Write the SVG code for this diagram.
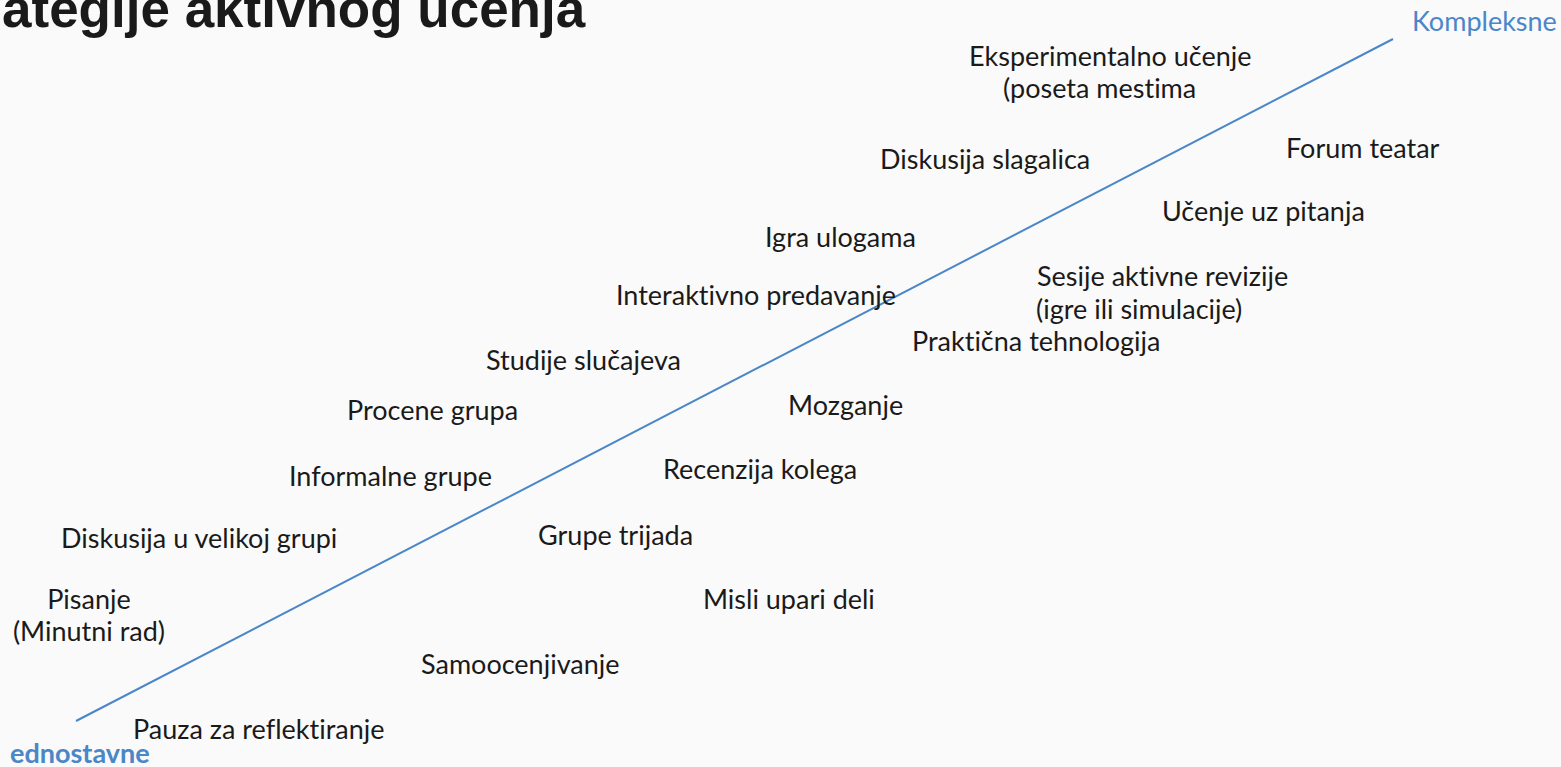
<svg xmlns="http://www.w3.org/2000/svg" width="1561" height="767" viewBox="0 0 1561 767">
<style>
.t{font-family:Lato,"Open Sans",sans-serif;font-size:27px;fill:#1a1a1a;font-variant-ligatures:none}
.b{font-family:Lato,"Open Sans",sans-serif;fill:#4a86c8;font-size:27px;font-variant-ligatures:none}
.title{font-family:"Liberation Sans",Arial,sans-serif;font-weight:bold;font-size:53px;fill:#1a1a1a}
</style>
<rect width="1561" height="767" fill="#fafafa"/>
<text class="title" x="2" y="27">ategije aktivnog učenja</text>
<g id="connectors">
<line x1="76" y1="721" x2="1393" y2="39" stroke="#4a86c8" stroke-width="2"/>
</g>
<g id="n-kompleksne"><text class="b" x="1412" y="31">Kompleksne</text></g>
<g id="n-jednostavne"><text class="b" x="10" y="763" font-weight="bold">ednostavne</text></g>
<g id="n1"><text class="t" x="969" y="66">Eksperimentalno učenje</text><text class="t" x="1003" y="98">(poseta mestima</text></g>
<g id="n2"><text class="t" x="880" y="169">Diskusija slagalica</text></g>
<g id="n3"><text class="t" x="1286" y="158">Forum teatar</text></g>
<g id="n4"><text class="t" x="1162" y="221">Učenje uz pitanja</text></g>
<g id="n5"><text class="t" x="765" y="247">Igra ulogama</text></g>
<g id="n6"><text class="t" x="1037" y="286">Sesije aktivne revizije</text><text class="t" x="1036" y="319">(igre ili simulacije)</text></g>
<g id="n7"><text class="t" x="616" y="305">Interaktivno predavanje</text></g>
<g id="n8"><text class="t" x="912" y="351">Praktična tehnologija</text></g>
<g id="n9"><text class="t" x="486" y="370">Studije slučajeva</text></g>
<g id="n10"><text class="t" x="347" y="420">Procene grupa</text></g>
<g id="n11"><text class="t" x="788" y="415">Mozganje</text></g>
<g id="n12"><text class="t" x="663" y="479">Recenzija kolega</text></g>
<g id="n13"><text class="t" x="289" y="486">Informalne grupe</text></g>
<g id="n14"><text class="t" x="61" y="548">Diskusija u velikoj grupi</text></g>
<g id="n15"><text class="t" x="538" y="545">Grupe trijada</text></g>
<g id="n16"><text class="t" x="89" y="609" text-anchor="middle">Pisanje</text><text class="t" x="89" y="641" text-anchor="middle">(Minutni rad)</text></g>
<g id="n17"><text class="t" x="703" y="609">Misli upari deli</text></g>
<g id="n18"><text class="t" x="421" y="674">Samoocenjivanje</text></g>
<g id="n19"><text class="t" x="133" y="739">Pauza za reflektiranje</text></g>
</svg>
